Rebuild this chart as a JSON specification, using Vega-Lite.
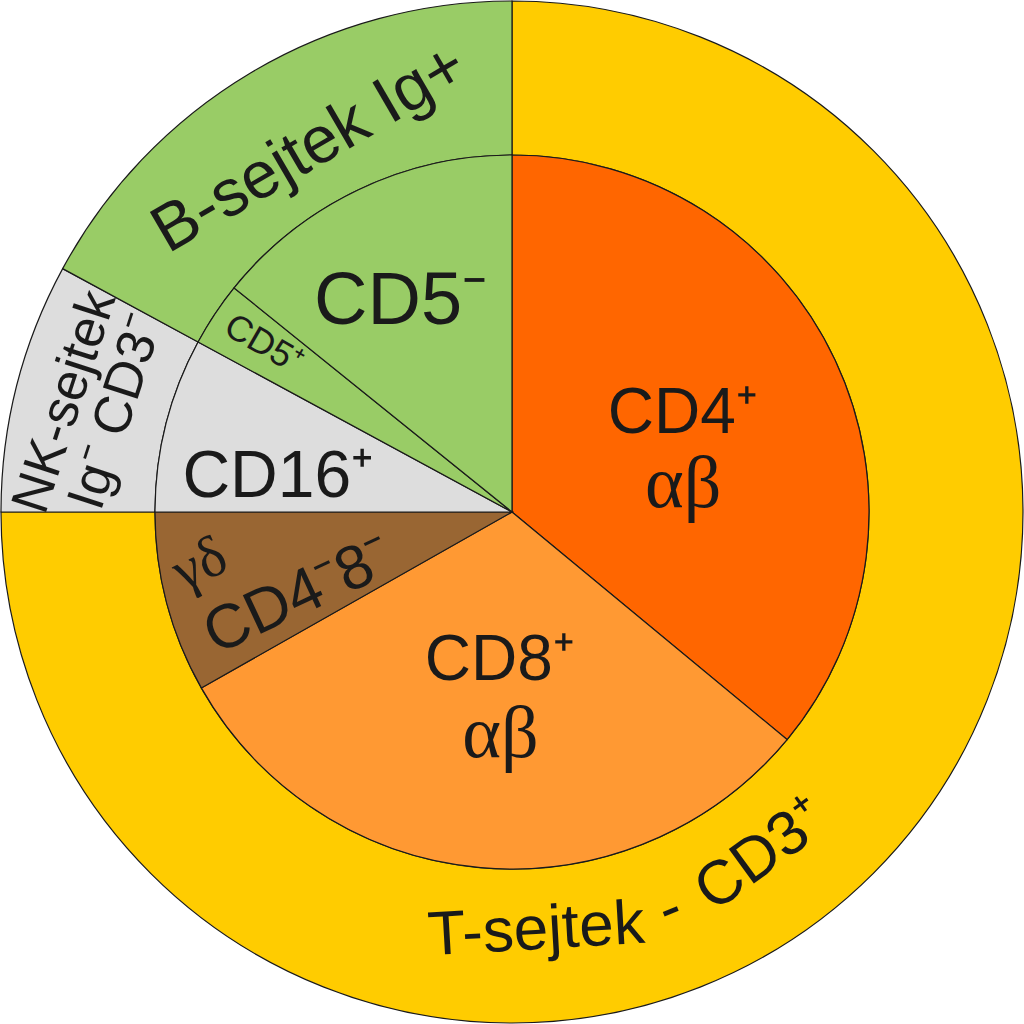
{
  "$schema": "https://vega.github.io/schema/vega-lite/v6.json",
  "width": 1024,
  "height": 1024,
  "autosize": {"type": "none"},
  "padding": 0,
  "background": "white",
  "view": {"stroke": null},
  "datasets": {
    "outer": [
      {"key": "T", "v": 75.0, "ord": 1, "lab": "T-sejtek", "lab2": "-", "lab3": "CD3⁺"},
      {"key": "NK", "v": 7.9, "ord": 2, "lab": "NK-sejtek", "lab2": "Ig⁻ CD3⁻", "lab3": ""},
      {"key": "B", "v": 17.1, "ord": 3, "lab": "B-sejtek Ig+", "lab2": "", "lab3": ""}
    ],
    "inner": [
      {"key": "CD4", "v": 36.0, "ord": 1, "lab": "CD4⁺", "greek": "αβ"},
      {"key": "CD8", "v": 30.8, "ord": 2, "lab": "CD8⁺", "greek": "αβ"},
      {"key": "gd", "v": 8.2, "ord": 3, "lab": "CD4⁻8⁻", "greek": "γδ"},
      {"key": "CD16", "v": 7.9, "ord": 4, "lab": "CD16⁺", "greek": ""},
      {"key": "CD5p", "v": 2.9, "ord": 5, "lab": "CD5⁺", "greek": ""},
      {"key": "CD5m", "v": 14.2, "ord": 6, "lab": "CD5⁻", "greek": ""}
    ]
  },
  "encoding": {
    "theta": {"field": "v", "type": "quantitative", "stack": true, "scale": {"domain": [0, 100]}},
    "order": {"field": "ord", "type": "quantitative"}
  },
  "layer": [
    {
      "data": {"name": "outer"},
      "mark": {"type": "arc", "innerRadius": 357, "outerRadius": 511, "stroke": "#1a1a1a", "strokeWidth": 1.2},
      "encoding": {
        "color": {"field": "key", "type": "nominal", "legend": null,
          "scale": {"domain": ["T", "NK", "B", "CD4", "CD8", "gd", "CD16", "CD5p", "CD5m"],
                    "range": ["#FFCC00", "#DDDDDD", "#99CC66", "#FF6600", "#FF9933", "#996633", "#DDDDDD", "#99CC66", "#99CC66"]}}
      }
    },
    {
      "data": {"name": "inner"},
      "mark": {"type": "arc", "innerRadius": 0, "outerRadius": 357, "stroke": "#1a1a1a", "strokeWidth": 1.2},
      "encoding": {
        "color": {"field": "key", "type": "nominal", "legend": null}
      }
    },
    {
      "data": {"name": "inner"},
      "mark": {"type": "text", "font": "Liberation Sans", "fontSize": 64, "fill": "#1a1a1a", "align": "center", "baseline": "middle", "radius": 196.4, "dx": -7, "dy": -14},
      "encoding": {"text": {"condition": {"test": "datum.key === 'CD4'", "field": "lab", "type": "nominal"}, "value": ""}}
    },
    {
      "data": {"name": "inner"},
      "mark": {"type": "text", "font": "Liberation Serif", "fontSize": 74, "fill": "#1a1a1a", "align": "center", "baseline": "middle", "radius": 166, "dx": 21, "dy": 44},
      "encoding": {"text": {"condition": {"test": "datum.key === 'CD4'", "field": "greek", "type": "nominal"}, "value": ""}}
    },
    {
      "data": {"name": "inner"},
      "mark": {"type": "text", "font": "Liberation Sans", "fontSize": 64, "fill": "#1a1a1a", "align": "center", "baseline": "middle", "radius": 149.5, "dx": 1, "dy": 0},
      "encoding": {"text": {"condition": {"test": "datum.key === 'CD8'", "field": "lab", "type": "nominal"}, "value": ""}}
    },
    {
      "data": {"name": "inner"},
      "mark": {"type": "text", "font": "Liberation Serif", "fontSize": 74, "fill": "#1a1a1a", "align": "center", "baseline": "middle", "radius": 222.7, "dx": 8, "dy": 1},
      "encoding": {"text": {"condition": {"test": "datum.key === 'CD8'", "field": "greek", "type": "nominal"}, "value": ""}}
    },
    {
      "data": {"name": "inner"},
      "mark": {"type": "text", "font": "Liberation Sans", "fontSize": 62, "fill": "#1a1a1a", "align": "center", "baseline": "middle", "radius": 228.3, "angle": -25, "dx": -4, "dy": 26},
      "encoding": {"text": {"condition": {"test": "datum.key === 'gd'", "field": "lab", "type": "nominal"}, "value": ""}}
    },
    {
      "data": {"name": "inner"},
      "mark": {"type": "text", "font": "Liberation Serif", "fontSize": 58, "fill": "#1a1a1a", "align": "center", "baseline": "middle", "radius": 315.2, "angle": -25, "dx": 5, "dy": -28},
      "encoding": {"text": {"condition": {"test": "datum.key === 'gd'", "field": "greek", "type": "nominal"}, "value": ""}}
    },
    {
      "data": {"name": "inner"},
      "mark": {"type": "text", "font": "Liberation Sans", "fontSize": 66, "fill": "#1a1a1a", "align": "center", "baseline": "middle", "radius": 235.4, "dx": -6, "dy": 23},
      "encoding": {"text": {"condition": {"test": "datum.key === 'CD16'", "field": "lab", "type": "nominal"}, "value": ""}}
    },
    {
      "data": {"name": "inner"},
      "mark": {"type": "text", "font": "Liberation Sans", "fontSize": 36, "fill": "#1a1a1a", "align": "center", "baseline": "middle", "radius": 299.3, "angle": 30, "dx": 0, "dy": -2},
      "encoding": {"text": {"condition": {"test": "datum.key === 'CD5p'", "field": "lab", "type": "nominal"}, "value": ""}}
    },
    {
      "data": {"name": "inner"},
      "mark": {"type": "text", "font": "Liberation Sans", "fontSize": 74, "fill": "#1a1a1a", "align": "center", "baseline": "middle", "radius": 237.3, "dx": -9, "dy": 4},
      "encoding": {"text": {"condition": {"test": "datum.key === 'CD5m'", "field": "lab", "type": "nominal"}, "value": ""}}
    },
    {
      "data": {"name": "outer"},
      "mark": {"type": "text", "font": "Liberation Sans", "fontSize": 66, "fill": "#1a1a1a", "align": "center", "baseline": "middle", "radius": 420, "angle": -30.2, "dx": 12, "dy": 4},
      "encoding": {"text": {"condition": {"test": "datum.key === 'B'", "field": "lab", "type": "nominal"}, "value": ""}}
    },
    {
      "data": {"name": "outer"},
      "mark": {"type": "text", "font": "Liberation Sans", "fontSize": 53, "fill": "#1a1a1a", "align": "center", "baseline": "middle", "radius": 463, "angle": -72, "dx": -3, "dy": 3},
      "encoding": {"text": {"condition": {"test": "datum.key === 'NK'", "field": "lab", "type": "nominal"}, "value": ""}}
    },
    {
      "data": {"name": "outer"},
      "mark": {"type": "text", "font": "Liberation Sans", "fontSize": 53, "fill": "#1a1a1a", "align": "center", "baseline": "middle", "radius": 411, "angle": -72, "dx": 0, "dy": 3},
      "encoding": {"text": {"condition": {"test": "datum.key === 'NK'", "field": "lab2", "type": "nominal"}, "value": ""}}
    },
    {
      "data": {"name": "outer"},
      "mark": {"type": "text", "font": "Liberation Sans", "fontSize": 62, "fill": "#1a1a1a", "align": "center", "baseline": "middle", "radius": 427, "angle": -3.3, "dx": -284, "dy": 100},
      "encoding": {"text": {"condition": {"test": "datum.key === 'T'", "field": "lab", "type": "nominal"}, "value": ""}}
    },
    {
      "data": {"name": "outer"},
      "mark": {"type": "text", "font": "Liberation Sans", "fontSize": 62, "fill": "#1a1a1a", "align": "center", "baseline": "middle", "radius": 427, "angle": -21.7, "dx": -169, "dy": 35},
      "encoding": {"text": {"condition": {"test": "datum.key === 'T'", "field": "lab2", "type": "nominal"}, "value": ""}}
    },
    {
      "data": {"name": "outer"},
      "mark": {"type": "text", "font": "Liberation Sans", "fontSize": 62, "fill": "#1a1a1a", "align": "center", "baseline": "middle", "radius": 427, "angle": -36, "dx": -67, "dy": 2},
      "encoding": {"text": {"condition": {"test": "datum.key === 'T'", "field": "lab3", "type": "nominal"}, "value": ""}}
    }
  ]
}
